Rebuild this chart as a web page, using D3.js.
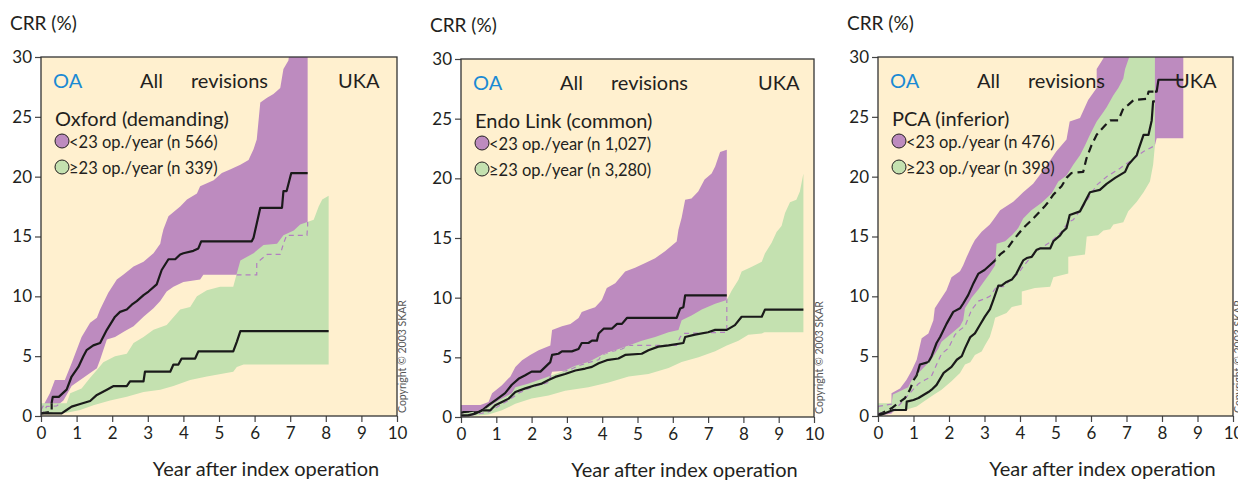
<!DOCTYPE html>
<html>
<head>
<meta charset="utf-8">
<script src="https://cdn.jsdelivr.net/npm/d3@7"></script>
<style>
  body { margin: 0; background: #fff; }
  svg { display: block; font-family: Lato, "Open Sans", sans-serif; }
</style>
</head>
<body>
<svg id="chart" width="1238" height="481"></svg>
<script>
// ---- data: [year, CRR %] ----

// Oxford (demanding)
const oxfordLowUpper = [[0,0.5],[0.1,1.06],[0.25,1.9],[0.39,3.0],[0.67,3.0],[0.86,4.4],[1.14,6.6],[1.38,7.8],[1.57,8.2],[1.66,8.9],[1.89,10.3],[2.13,11.4],[2.31,11.8],[2.6,12.5],[2.88,12.9],[3.16,13.6],[3.35,14.4],[3.39,15.0],[3.44,15.6],[3.58,16.7],[3.91,17.5],[4.1,18.1],[4.38,18.6],[4.47,19.2],[4.85,19.7],[5.08,20.3],[5.31,20.6],[5.6,21.0],[5.83,21.4],[5.97,22.3],[6.06,23.1],[6.16,26.2],[6.35,26.6],[6.53,26.9],[6.72,27.4],[6.81,29.0],[6.95,29.7],[7.0,31],[7.49,31]];
const oxfordLowLower = [[0,0],[0.16,0.8],[0.44,0.84],[0.63,1.3],[0.86,2.5],[1.1,3.0],[1.38,3.6],[1.57,4.0],[1.66,4.7],[1.85,6.4],[2.08,6.6],[2.36,7.1],[2.6,7.5],[2.88,8.3],[3.16,9.0],[3.35,9.6],[3.53,10.4],[3.72,10.8],[4.0,11.2],[4.47,11.4],[4.56,11.8],[6.06,11.8],[6.06,12.8],[6.35,13.5],[6.72,13.5],[6.81,14.4],[6.9,15.1],[7.47,15.1],[7.49,15.9]];
const oxfordLowMean = [[0,0.22],[0.3,0.36],[0.3,1.1],[0.33,1.6],[0.5,1.6],[0.72,2.2],[0.86,3.3],[1.05,4.1],[1.19,5.0],[1.28,5.5],[1.47,5.9],[1.66,6.1],[1.85,7.2],[2.08,8.3],[2.22,8.7],[2.41,8.9],[2.55,9.3],[2.69,9.6],[2.88,10.1],[3.02,10.4],[3.25,11.0],[3.39,12.2],[3.58,13.1],[3.77,13.1],[3.91,13.5],[4.0,13.6],[4.28,13.8],[4.42,14.0],[4.5,14.6],[5.92,14.6],[5.97,14.9],[6.16,17.4],[6.77,17.4],[6.81,18.8],[6.9,18.8],[7.03,20.3],[7.49,20.3]];
const oxfordHighUpper = [[0,1.06],[0.72,1.06],[0.82,1.9],[1.14,2.3],[1.38,3.2],[1.57,3.85],[1.75,4.5],[2.08,5.0],[2.41,5.2],[2.6,6.1],[2.88,6.6],[3.16,7.2],[3.53,7.6],[3.91,8.9],[4.19,9.1],[4.38,10.0],[4.66,10.5],[5.03,10.8],[5.4,10.8],[5.5,11.9],[5.6,13.0],[5.97,13.6],[6.25,14.3],[6.63,14.4],[6.81,15.1],[7.1,15.5],[7.28,16.0],[7.66,16.4],[7.8,17.5],[7.9,18.1],[8.08,18.4]];
const oxfordHighLower = [[0,0.28],[0.72,0.28],[1.1,0.5],[1.47,0.9],[1.94,1.3],[2.41,1.6],[2.88,2.0],[3.35,2.2],[3.72,2.5],[4.19,3.0],[4.66,3.3],[5.4,3.7],[5.5,4.1],[5.69,4.3],[8.08,4.3]];
const oxfordHighMean = [[0,0.22],[0.58,0.22],[0.72,0.5],[0.86,0.78],[1.1,1.0],[1.38,1.25],[1.57,1.76],[1.85,2.2],[2.04,2.5],[2.41,2.5],[2.5,2.9],[2.88,2.9],[2.92,3.7],[3.63,3.7],[3.72,4.3],[3.86,4.3],[3.95,4.8],[4.33,4.8],[4.42,5.4],[5.4,5.4],[5.5,6.2],[5.6,7.1],[8.08,7.1]];

// Endo Link (common)
const endoLowUpper = [[0,1.0],[0.55,1.0],[0.78,1.26],[0.88,2.0],[1.16,2.66],[1.4,3.4],[1.54,4.2],[1.73,4.76],[1.96,5.2],[2.2,5.6],[2.53,6.0],[2.58,7.3],[2.86,7.6],[3.1,7.8],[3.33,8.3],[3.42,8.8],[3.61,9.0],[3.8,9.2],[3.99,9.8],[4.13,10.8],[4.37,11.2],[4.65,12.2],[4.93,12.5],[5.22,12.9],[5.5,13.3],[5.78,13.9],[6.11,14.7],[6.16,15.7],[6.25,16.7],[6.35,18.2],[6.53,18.3],[6.72,18.9],[6.9,19.9],[7.1,20.4],[7.2,21.0],[7.34,22.2],[7.53,22.4]];
const endoLowLower = [[0,0],[0.78,0.42],[1.02,0.84],[1.35,1.4],[1.63,2.0],[1.92,2.4],[2.2,2.66],[2.48,2.9],[2.58,3.8],[3.05,3.9],[3.33,4.3],[3.66,4.6],[3.9,4.8],[3.99,5.2],[4.27,5.5],[4.56,5.7],[4.75,6.0],[6.11,6.0],[6.21,6.7],[6.3,7.0],[7.53,7.1]];
const endoLowMean = [[0,0.34],[0.08,0.42],[0.5,0.42],[0.6,0.56],[0.78,1.0],[1.02,1.5],[1.25,2.0],[1.44,2.7],[1.63,3.2],[1.82,3.5],[2.0,3.8],[2.25,3.8],[2.39,4.2],[2.53,4.6],[2.58,5.2],[2.76,5.3],[2.86,5.5],[3.14,5.5],[3.33,5.7],[3.42,6.2],[3.61,6.2],[3.71,6.4],[3.85,6.4],[3.9,7.0],[4.04,7.4],[4.27,7.4],[4.42,7.8],[4.56,7.8],[4.7,8.3],[6.11,8.3],[6.21,9.1],[6.3,9.2],[6.35,10.2],[7.53,10.2]];
const endoHighUpper = [[0,0.28],[0.6,0.56],[0.78,0.84],[1.07,1.4],[1.44,2.0],[1.54,2.5],[1.92,2.8],[2.2,3.1],[2.48,3.4],[2.67,3.6],[2.95,3.9],[3.24,4.3],[3.61,4.6],[3.99,5.2],[4.37,5.6],[4.75,6.0],[5.12,6.4],[5.5,6.7],[5.88,7.1],[6.16,7.3],[6.25,8.1],[6.53,8.5],[6.82,9.0],[7.2,9.5],[7.53,9.8],[7.67,10.6],[7.86,11.5],[7.95,12.2],[8.24,12.6],[8.52,13.0],[8.61,13.7],[8.8,14.6],[8.94,15.5],[9.08,16.0],[9.18,17.1],[9.32,18.0],[9.5,18.2],[9.6,18.9],[9.7,20.4]];
const endoHighLower = [[0,0],[0.78,0.2],[1.16,0.56],[1.54,1.1],[2.0,1.54],[2.48,1.8],[2.95,2.2],[3.61,2.5],[4.18,2.9],[4.75,3.4],[5.31,3.6],[5.88,4.1],[6.25,4.6],[6.73,5.0],[7.2,5.5],[7.53,6.0],[7.86,6.4],[8.14,6.9],[8.52,7.0],[8.6,7.1],[9.7,7.1]];
const endoHighMean = [[0,0.14],[0.2,0.14],[0.4,0.28],[0.6,0.56],[0.83,0.56],[0.97,0.98],[1.16,1.26],[1.35,1.54],[1.54,2.1],[1.82,2.4],[2.1,2.66],[2.29,2.8],[2.48,3.1],[2.67,3.36],[2.95,3.6],[3.24,3.9],[3.52,4.06],[3.71,4.2],[3.9,4.5],[4.13,4.76],[4.46,4.9],[4.65,5.2],[5.12,5.3],[5.31,5.6],[5.59,5.9],[5.88,6.0],[6.3,6.2],[6.35,6.7],[6.63,6.9],[7.0,7.1],[7.2,7.3],[7.53,7.3],[7.76,7.7],[7.95,8.4],[8.52,8.4],[8.61,9.0],[9.7,9.0]];

// PCA (inferior)
const pcaLowUpper = [[0,0.8],[0.38,1.0],[0.38,1.9],[0.62,2.3],[0.8,3.0],[0.95,3.8],[1.09,4.7],[1.23,6.5],[1.42,6.9],[1.56,8.0],[1.6,9.0],[1.75,9.7],[1.93,10.5],[2.07,11.6],[2.31,12.1],[2.4,12.6],[2.5,13.3],[2.64,14.2],[2.73,14.7],[2.92,15.4],[3.15,16.0],[3.25,16.4],[3.44,17.2],[3.81,17.9],[4.09,18.7],[4.37,19.4],[4.6,20.3],[4.84,21.3],[5.02,22.1],[5.31,23.1],[5.4,24.6],[5.69,24.9],[5.92,26.4],[6.16,27.4],[6.16,29.0],[6.35,29.9],[6.44,31],[8.6,31]];
const pcaLowLower = [[0,0],[0.38,0.2],[0.85,1.75],[1.14,2.7],[1.32,3.0],[1.5,3.3],[1.65,4.3],[1.79,5.2],[1.98,5.65],[2.17,6.8],[2.31,7.2],[2.45,7.5],[2.64,8.9],[2.83,9.6],[3.01,9.8],[3.15,10.0],[3.34,10.8],[3.53,10.8],[3.67,11.2],[3.95,11.9],[4.09,12.5],[4.23,13.0],[4.52,13.9],[4.89,14.6],[5.17,15.4],[5.36,16.2],[5.5,16.4],[5.8,17.6],[6.16,19.3],[6.44,20.0],[6.82,20.7],[7.2,21.5],[7.48,22.1],[7.8,22.6],[7.85,23.2],[8.6,23.2]];
const pcaLowMean = [[0,0.08],[0.38,0.64],[0.76,1.5],[0.9,2.2],[1.0,3.0],[1.09,3.4],[1.18,4.3],[1.42,4.5],[1.51,5.0],[1.65,6.1],[1.75,6.6],[1.93,7.7],[2.12,8.7],[2.31,9.0],[2.4,9.4],[2.54,10.1],[2.69,11.1],[2.83,11.9],[3.0,12.2],[3.15,12.6],[3.3,13.0],[3.44,13.5],[3.62,13.9],[3.81,14.7],[4.09,15.7],[4.37,16.5],[4.5,16.9],[4.69,17.5],[4.8,17.9],[4.94,18.5],[5.17,19.2],[5.31,19.9],[5.45,20.3],[5.78,20.4],[5.87,21.5],[6.01,22.6],[6.16,23.5],[6.4,24.3],[6.54,24.7],[6.77,24.7],[6.91,25.7],[7.05,26.0],[7.2,26.4],[7.57,26.5],[7.62,27.1],[7.85,27.1],[7.9,28.1],[8.6,28.1]];
const pcaHighUpper = [[0,1.06],[0.38,1.06],[0.42,1.8],[0.85,2.4],[0.95,3.0],[1.5,4.7],[1.7,5.65],[1.79,6.2],[2.07,6.9],[2.31,7.5],[2.4,8.0],[2.45,9.0],[2.64,9.9],[2.83,10.6],[3.0,11.3],[3.15,11.9],[3.3,12.6],[3.34,14.4],[3.58,14.6],[3.77,15.1],[3.95,15.7],[4.09,16.5],[4.32,17.2],[4.6,17.8],[4.89,18.6],[5.08,19.6],[5.31,20.1],[5.5,21.0],[5.69,21.8],[5.83,22.6],[5.97,23.5],[6.16,24.6],[6.35,25.4],[6.44,25.8],[6.63,26.8],[6.77,27.4],[6.91,28.2],[6.96,29.0],[7.1,30.2],[7.8,31]];
const pcaHighLower = [[0,0.3],[0.38,0.36],[0.76,0.5],[1.09,0.8],[1.28,1.2],[1.56,1.75],[1.79,2.2],[2.07,2.9],[2.31,3.6],[2.45,4.3],[2.6,4.5],[2.73,5.1],[2.92,5.4],[3.01,5.9],[3.15,6.6],[3.25,7.6],[3.3,8.2],[3.62,8.6],[3.77,9.1],[4.05,9.3],[4.05,10.4],[4.42,10.7],[4.85,10.8],[4.94,11.6],[5.36,11.9],[5.36,13.3],[5.83,13.5],[5.88,15.0],[6.2,15.1],[6.35,15.5],[6.54,15.6],[6.63,16.0],[6.91,16.2],[7.05,17.1],[7.29,17.9],[7.48,18.7],[7.66,19.6],[7.75,21.0],[7.8,22.6]];
const pcaHighMean = [[0,0],[0.43,0.5],[0.79,0.5],[0.81,1.2],[1.0,1.34],[1.14,1.5],[1.28,1.75],[1.42,2.0],[1.51,2.2],[1.65,2.6],[1.85,3.6],[2.07,4.1],[2.22,4.7],[2.36,5.0],[2.45,5.65],[2.6,6.6],[2.73,6.9],[2.87,7.6],[3.01,8.3],[3.15,8.9],[3.25,9.7],[3.39,10.9],[3.48,10.9],[3.62,11.2],[3.77,11.4],[3.9,11.9],[4.0,12.5],[4.09,13.0],[4.19,13.2],[4.33,13.3],[4.47,13.9],[4.56,14.0],[4.85,14.0],[4.94,14.6],[5.13,15.1],[5.2,15.4],[5.31,15.7],[5.4,16.8],[5.69,17.1],[5.97,18.7],[6.25,18.9],[6.44,19.4],[6.68,19.9],[6.96,20.4],[7.05,21.0],[7.29,21.8],[7.33,22.2],[7.48,23.5],[7.62,23.5],[7.71,24.7],[7.75,26.3],[7.8,26.3]];

const prostheses = ["Oxford (demanding)", "Endo Link (common)", "PCA (inferior)"];
const lowCounts = ["566", "1,027", "476"];
const highCounts = ["339", "3,280", "398"];
const yTicks = [0, 5, 10, 15, 20, 25, 30];
const xTicks = [0, 1, 2, 3, 4, 5, 6, 7, 8, 9, 10];

const series = [
  {low: [oxfordLowUpper, oxfordLowLower, oxfordLowMean], high: [oxfordHighUpper, oxfordHighLower, oxfordHighMean]},
  {low: [endoLowUpper, endoLowLower, endoLowMean], high: [endoHighUpper, endoHighLower, endoHighMean]},
  {low: [pcaLowUpper, pcaLowLower, pcaLowMean], high: [pcaHighUpper, pcaHighLower, pcaHighMean]}
];

// ---- layout ----
const frames = [
  {left: 41, top: 57, right: 397, bottom: 416},
  {left: 461, top: 59, right: 814, bottom: 417},
  {left: 878, top: 57, right: 1233, bottom: 416}
];
const BG = "#fff0cf", PURPLE = "#bd8bbf", GREEN = "#c4e1b0", INK = "#231f20";

const svg = d3.select("#chart");
svg.append("rect").attr("width", 1238).attr("height", 481).attr("fill", "#fff");
const defs = svg.append("defs");

frames.forEach(function(f, i) {
  const x = d3.scaleLinear().domain([0, 10]).range([f.left, f.right]);
  const y = d3.scaleLinear().domain([0, 30]).range([f.bottom, f.top]);
  const line = d3.line().x(d => x(d[0])).y(d => y(d[1]));
  const band = function(upper, lower) {
    return line(upper.concat(lower.slice().reverse())) + "Z";
  };
  const s = series[i];
  const purpleBand = band(s.low[0], s.low[1]);
  const greenBand = band(s.high[0], s.high[1]);

  // clip to the plot, plus the green band as clip and as mask
  defs.append("clipPath").attr("id", "plot" + i)
    .append("rect").attr("x", f.left).attr("y", f.top)
    .attr("width", f.right - f.left).attr("height", f.bottom - f.top);
  defs.append("clipPath").attr("id", "inGreen" + i)
    .append("path").attr("d", greenBand);
  const mask = defs.append("mask").attr("id", "outGreen" + i)
    .attr("maskUnits", "userSpaceOnUse")
    .attr("x", 0).attr("y", 0).attr("width", 1238).attr("height", 481);
  mask.append("rect").attr("width", 1238).attr("height", 481).attr("fill", "#fff");
  mask.append("path").attr("d", greenBand).attr("fill", "#000");

  const g = svg.append("g");
  const plot = g.append("g").attr("clip-path", "url(#plot" + i + ")");

  plot.append("rect")
    .attr("x", f.left).attr("y", f.top)
    .attr("width", f.right - f.left).attr("height", f.bottom - f.top)
    .attr("fill", BG);

  plot.append("path").attr("d", purpleBand).attr("fill", PURPLE);
  plot.append("path").attr("d", greenBand).attr("fill", GREEN);

  // purple band outline where it runs under the green one
  plot.append("g").attr("clip-path", "url(#inGreen" + i + ")")
    .append("path").attr("d", purpleBand)
    .attr("fill", "none").attr("stroke", "#b27fc0")
    .attr("stroke-width", 1.2).attr("stroke-dasharray", "5,4");

  // labels inside the plot
  const lab = g.append("g").attr("fill", INK).style("font-size", "20px");
  lab.append("text").attr("x", f.left + 12).attr("y", f.top + 31)
    .attr("fill", "#1a8ad4").text("OA");
  lab.append("text").attr("x", f.left + 99).attr("y", f.top + 31).text("All");
  lab.append("text").attr("x", f.left + 150).attr("y", f.top + 31).text("revisions");
  lab.append("text").attr("x", f.left + 297).attr("y", f.top + 31).text("UKA");
  lab.append("text").attr("x", f.left + 14).attr("y", f.top + 69).text(prostheses[i]);

  const legend = [
    {fill: PURPLE, text: "<23 op./year (n " + lowCounts[i] + ")"},
    {fill: GREEN, text: "\u226523 op./year (n " + highCounts[i] + ")"}
  ];
  const leg = g.selectAll(".leg").data(legend).enter().append("g")
    .attr("transform", (d, j) => "translate(" + (f.left + 21) + "," + (f.top + 84 + j * 26) + ")");
  leg.append("circle").attr("r", 7).attr("fill", d => d.fill)
    .attr("stroke", INK).attr("stroke-width", 1);
  leg.append("text").attr("x", 7).attr("y", 7)
    .attr("fill", INK).style("font-size", "16.5px").text(d => d.text);

  // curves
  const lines = plot.append("g").attr("fill", "none").attr("stroke", "#1a1a1a")
    .attr("stroke-width", 2.2).attr("stroke-linejoin", "round");
  lines.append("path").attr("d", line(s.high[2]));
  lines.append("path").attr("d", line(s.low[2])).attr("mask", "url(#outGreen" + i + ")");
  lines.append("g").attr("clip-path", "url(#inGreen" + i + ")")
    .append("path").attr("d", line(s.low[2])).attr("stroke-dasharray", "8,5");

  // axes and frame
  const axisY = g.append("g").attr("transform", "translate(" + f.left + ",0)")
    .call(d3.axisLeft(y).tickValues(yTicks).tickSize(6).tickPadding(3));
  const axisX = g.append("g").attr("transform", "translate(0," + f.bottom + ")")
    .call(d3.axisBottom(x).tickValues(xTicks).tickSize(6).tickPadding(5));
  [axisY, axisX].forEach(function(a) {
    a.select(".domain").remove();
    a.selectAll("line").attr("stroke", "#444").attr("stroke-width", 1.2);
    a.selectAll("text").attr("fill", INK)
      .style("font-family", "Lato, sans-serif").style("font-size", "17px");
  });
  g.append("rect")
    .attr("x", f.left).attr("y", f.top)
    .attr("width", f.right - f.left).attr("height", f.bottom - f.top)
    .attr("fill", "none").attr("stroke", "#333").attr("stroke-width", 1.3);

  g.append("text").attr("x", f.left - 31).attr("y", f.top - 27)
    .attr("fill", INK).style("font-size", "19px").text("CRR (%)");
  g.append("text").attr("x", (f.left + f.right) / 2 + 47).attr("y", f.bottom + 60)
    .attr("text-anchor", "middle").attr("fill", INK)
    .style("font-size", "20px").text("Year after index operation");
  g.append("text")
    .attr("transform", "translate(" + (f.right + 9) + "," + (f.bottom - 3) + ") rotate(-90)")
    .attr("fill", "#555").style("font-size", "10.5px")
    .text("Copyright \u00a9 2003 SKAR");
});
</script>
</body>
</html>
